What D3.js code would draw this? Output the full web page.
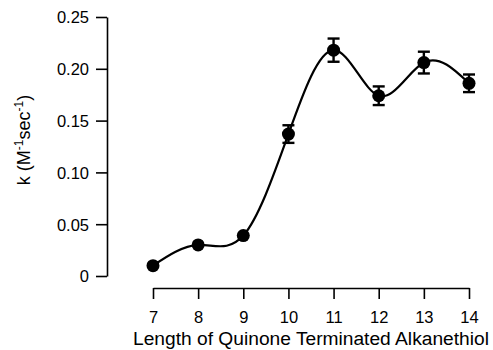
<!DOCTYPE html>
<html>
<head>
<meta charset="utf-8">
<script src="https://cdn.jsdelivr.net/npm/d3@7"></script>
<style>
  body { margin:0; background:#fff; }
  svg { display:block; font-family: "Liberation Sans", Arial, sans-serif; }
</style>
</head>
<body>
<div id="chart"></div>
<script>
const lengths = [7, 8, 9, 10, 11, 12, 13, 14];
const rates   = [0.010, 0.030, 0.039, 0.137, 0.218, 0.174, 0.206, 0.186];
const errors  = [0, 0, 0, 0.0085, 0.0112, 0.0090, 0.0105, 0.0085];
const yTicks  = [0, 0.05, 0.10, 0.15, 0.20, 0.25];
const yTickLabels = ['0', '0.05', '0.10', '0.15', '0.20', '0.25'];

const width = 493, height = 350;
const svg = d3.select('#chart').append('svg').attr('width', width).attr('height', height);

const x = d3.scaleLinear().domain([7, 14]).range([153, 469]);
const y = d3.scaleLinear().domain([0, 0.25]).range([276, 17]);

// axes
const xAxis = svg.append('g').attr('transform', 'translate(0,288)')
  .call(d3.axisBottom(x).tickValues(lengths).tickFormat(d3.format('d')).tickSize(11).tickSizeOuter(0));
const yAxis = svg.append('g').attr('transform', 'translate(107,0)')
  .call(d3.axisLeft(y).tickValues(yTicks).tickFormat((d, i) => yTickLabels[i]).tickSize(11).tickSizeOuter(0));

[xAxis, yAxis].forEach(g => {
  g.select('.domain').attr('stroke', '#000').attr('stroke-width', 1.6);
  g.selectAll('.tick line').attr('stroke', '#000').attr('stroke-width', 1.6);
  g.selectAll('.tick text').attr('fill', '#000').attr('font-size', 16.5)
    .attr('font-family', '"Liberation Sans", Arial, sans-serif');
});
xAxis.selectAll('.tick text').attr('dy', null).attr('y', 35);
yAxis.selectAll('.tick text').attr('x', -18).attr('dy', '0.36em');

// titles
svg.append('text').attr('x', 133).attr('y', 345).attr('font-size', 19.2)
  .text('Length of Quinone Terminated Alkanethiol');

const yt = svg.append('text').attr('transform', 'translate(30,140) rotate(-90)')
  .attr('text-anchor', 'middle').attr('font-size', 18);
yt.append('tspan').text('k (M');
yt.append('tspan').attr('font-size', 12).attr('dy', -7).text('-1');
yt.append('tspan').attr('dy', 7).text('sec');
yt.append('tspan').attr('font-size', 12).attr('dy', -7).text('-1');
yt.append('tspan').attr('dy', 7).text(')');

// data
const pts = lengths.map((l, i) => ({ l, v: rates[i], e: errors[i] }));

const line = d3.line().x(d => x(d.l)).y(d => y(d.v)).curve(d3.curveNatural);
svg.append('path').datum(pts).attr('d', line)
  .attr('fill', 'none').attr('stroke', '#000').attr('stroke-width', 2.2);

const eb = svg.append('g').attr('stroke', '#000').attr('stroke-width', 2.4);
pts.filter(d => d.e > 0).forEach(d => {
  const cx = x(d.l);
  eb.append('line').attr('x1', cx).attr('x2', cx).attr('y1', y(d.v + d.e)).attr('y2', y(d.v - d.e));
  eb.append('line').attr('x1', cx - 6).attr('x2', cx + 6).attr('y1', y(d.v + d.e)).attr('y2', y(d.v + d.e));
  eb.append('line').attr('x1', cx - 6).attr('x2', cx + 6).attr('y1', y(d.v - d.e)).attr('y2', y(d.v - d.e));
});

svg.append('g').selectAll('circle').data(pts).join('circle')
  .attr('cx', d => x(d.l)).attr('cy', d => y(d.v)).attr('r', 6.5).attr('fill', '#000');
</script>
</body>
</html>
